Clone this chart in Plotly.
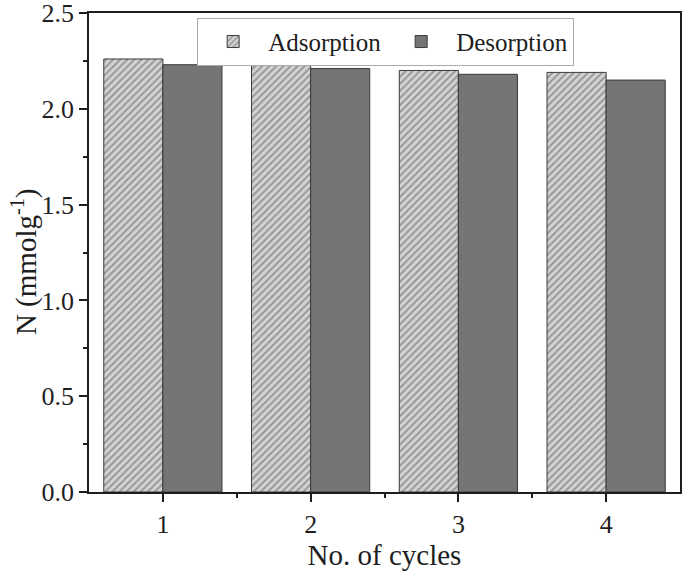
import plotly.graph_objects as go

cycles = [1, 2, 3, 4]
adsorption = [2.26, 2.24, 2.20, 2.19]
desorption = [2.23, 2.21, 2.18, 2.15]
tick_labels = ["1", "2", "3", "4"]
y_ticks = [0, 0.5, 1.0, 1.5, 2.0, 2.5]
y_tick_labels = ["0.0", "0.5", "1.0", "1.5", "2.0", "2.5"]

font_family = "Liberation Serif, Times New Roman, serif"
ink = "#1e1e1e"

fig = go.Figure()
fig.add_trace(go.Bar(
    x=cycles, y=adsorption, name="Adsorption",
    marker=dict(color="#cfcfcf",
                line=dict(color="#3a3a3a", width=1),
                pattern=dict(shape="/", fgcolor="#555555", bgcolor="#d2d2d2",
                             size=5, solidity=0.35)),
))
fig.add_trace(go.Bar(
    x=cycles, y=desorption, name="Desorption",
    marker=dict(color="#757575", line=dict(color="#3a3a3a", width=1)),
))

fig.update_layout(
    width=685, height=574,
    margin=dict(l=89, r=5, t=13, b=82, autoexpand=False),
    paper_bgcolor="white", plot_bgcolor="white",
    barmode="group", bargap=0.2, bargroupgap=0,
    font=dict(family=font_family, color=ink, size=26),
    showlegend=True,
    legend=dict(orientation="h", x=0.183, y=0.99, xanchor="left", yanchor="top",
                bordercolor="#aaaaaa", borderwidth=1, bgcolor="white",
                font=dict(size=25, family=font_family, color=ink), itemwidth=60,
                tracegroupgap=0),
    annotations=[dict(
        text="N (mmolg<sup>-1</sup>)", xref="paper", yref="paper",
        x=0, y=0.48, xshift=-65, xanchor="center", yanchor="middle",
        textangle=-90, showarrow=False, font=dict(size=29, color=ink),
    )],
)

fig.update_xaxes(
    range=[0.5, 4.5], tickmode="array", tickvals=cycles, ticktext=tick_labels,
    ticks="outside", ticklen=8, tickwidth=1.5, tickcolor=ink,
    showline=True, linecolor=ink, linewidth=1.5, mirror=True,
    showgrid=False, zeroline=False,
    minor=dict(tickvals=[1.5, 2.5, 3.5], ticks="outside", ticklen=4,
               tickwidth=1.5, tickcolor=ink),
    tickfont=dict(size=26), ticklabeloverflow="allow",
    title=dict(text="No. of cycles", font=dict(size=29), standoff=4),
)
fig.update_yaxes(
    range=[0, 2.5], tickmode="array", tickvals=y_ticks, ticktext=y_tick_labels,
    ticks="outside", ticklen=8, tickwidth=1.5, tickcolor=ink,
    showline=True, linecolor=ink, linewidth=1.5, mirror=True,
    showgrid=False, zeroline=False,
    minor=dict(tickvals=[0.25, 0.75, 1.25, 1.75, 2.25], ticks="outside", ticklen=4,
               tickwidth=1.5, tickcolor=ink),
    tickfont=dict(size=26), ticklabeloverflow="allow",
)

fig.write_html("out.html", config={"displayModeBar": False},
               post_script="document.body.style.margin='0';")
